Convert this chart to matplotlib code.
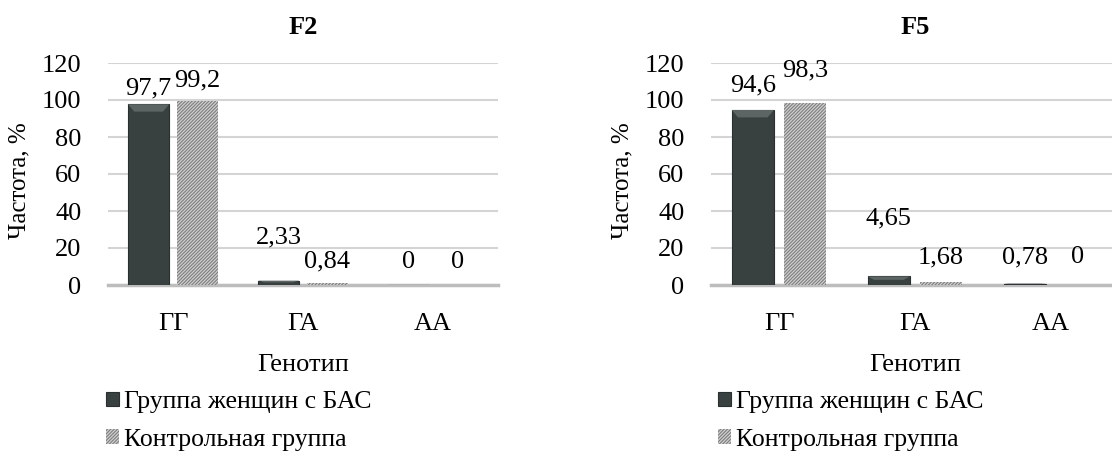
"""
Genotype frequency bar charts for the F2 and F5 polymorphisms
"""
import matplotlib
matplotlib.use("Agg")
import matplotlib.pyplot as plt
from matplotlib.patches import Polygon
import numpy as np

plt.rcParams['font.family'] = ['Liberation Serif', 'DejaVu Serif']
plt.rcParams['hatch.linewidth'] = 0.8

genotypes = ["ГГ", "ГА", "АА"]
series_names = ["Группа женщин с БАС", "Контрольная группа"]

f2_bas = [97.7, 2.33, 0]
f2_control = [99.2, 0.84, 0]
f5_bas = [94.6, 4.65, 0.78]
f5_control = [98.3, 1.68, 0]

# heights at which the value labels sit
f2_label_y = [[106.5, 25.5, 12.5], [110.8, 12.5, 12.5]]
f5_label_y = [[108.0, 36.0, 15.0], [116.0, 15.0, 15.0]]

DARK = "#394040"
HATCH_FACE = "#d0d0d0"
HATCH_EDGE = "#7d7d7d"
GRID = "#d4d4d4"
BASE = "#bdbdbd"

W, H = 1112, 461


def fmt(v):
    return f"{v:g}".replace(".", ",")


def draw_panel(ax, title, bas, control, label_y, bar_w, gap):
    x = np.arange(len(genotypes))
    off = (bar_w + gap) / 2
    b1 = ax.bar(x - off, bas, bar_w, color=DARK, edgecolor="#2a3030",
                linewidth=0.8, zorder=3, label=series_names[0])
    b2 = ax.bar(x + off, control, bar_w, color=HATCH_FACE,
                edgecolor=HATCH_EDGE, hatch="//////////", linewidth=0,
                zorder=3, label=series_names[1])

    # light bevel at the top of the dark bars
    for rect in b1:
        h = rect.get_height()
        if h <= 0:
            continue
        bh = min(4.0, h * 0.4)
        x0 = rect.get_x()
        w = rect.get_width()
        ins = w * 0.15
        poly = Polygon([(x0, h), (x0 + w, h), (x0 + w - ins, h - bh),
                        (x0 + ins, h - bh)], closed=True,
                       facecolor="#5c6464", edgecolor="none", zorder=4)
        ax.add_patch(poly)

    for rects, vals, ly in ((b1, bas, label_y[0]), (b2, control, label_y[1])):
        for rect, v, y in zip(rects, vals, ly):
            ax.text(rect.get_x() + rect.get_width() / 2, y, fmt(v),
                    ha="center", va="center", fontsize=19, zorder=5)

    ax.set_xlim(-0.5, len(genotypes) - 0.5)
    ax.set_ylim(0, 120)
    ax.set_yticks(range(0, 121, 20))
    ax.set_xticks(x)
    ax.set_xticklabels(genotypes)
    ax.tick_params(axis="y", length=0, pad=19, labelsize=19)
    ax.tick_params(axis="x", length=0, pad=20, labelsize=19)
    ax.grid(axis="y", color=GRID, linewidth=1.5, zorder=0)
    for side in ("top", "right", "left"):
        ax.spines[side].set_visible(False)
    ax.spines["bottom"].set_color(BASE)
    ax.spines["bottom"].set_linewidth(2.5)
    ax.spines["bottom"].set_zorder(2)
    ax.set_ylabel("Частота, %", fontsize=18)
    ax.set_xlabel("Генотип", fontsize=19, labelpad=14)
    ax.set_title(title, fontsize=19, fontweight="bold", pad=21)
    return b1, b2


fig = plt.figure(figsize=(W / 100, H / 100), dpi=100)

ax1 = fig.add_axes([108 / W, (H - 285) / H, 390 / W, 222 / H])
h1 = draw_panel(ax1, "F2", f2_bas, f2_control, f2_label_y, 0.315, 0.06)
ax1.yaxis.set_label_coords(-0.2, 0.47)

ax2 = fig.add_axes([711 / W, (H - 285) / H, 408 / W, 222 / H])
h2 = draw_panel(ax2, "F5", f5_bas, f5_control, f5_label_y, 0.31, 0.075)
ax2.yaxis.set_label_coords(-0.19, 0.47)

for handles, x0 in ((h1, 96), (h2, 708)):
    fig.legend(handles, series_names, loc="upper left",
               bbox_to_anchor=(x0 / W, (H - 381) / H), frameon=False,
               fontsize=18.5, handlelength=0.5, handleheight=0.5,
               handletextpad=0.2, labelspacing=0.6, borderaxespad=0)

fig.savefig("out.png", dpi=100)
